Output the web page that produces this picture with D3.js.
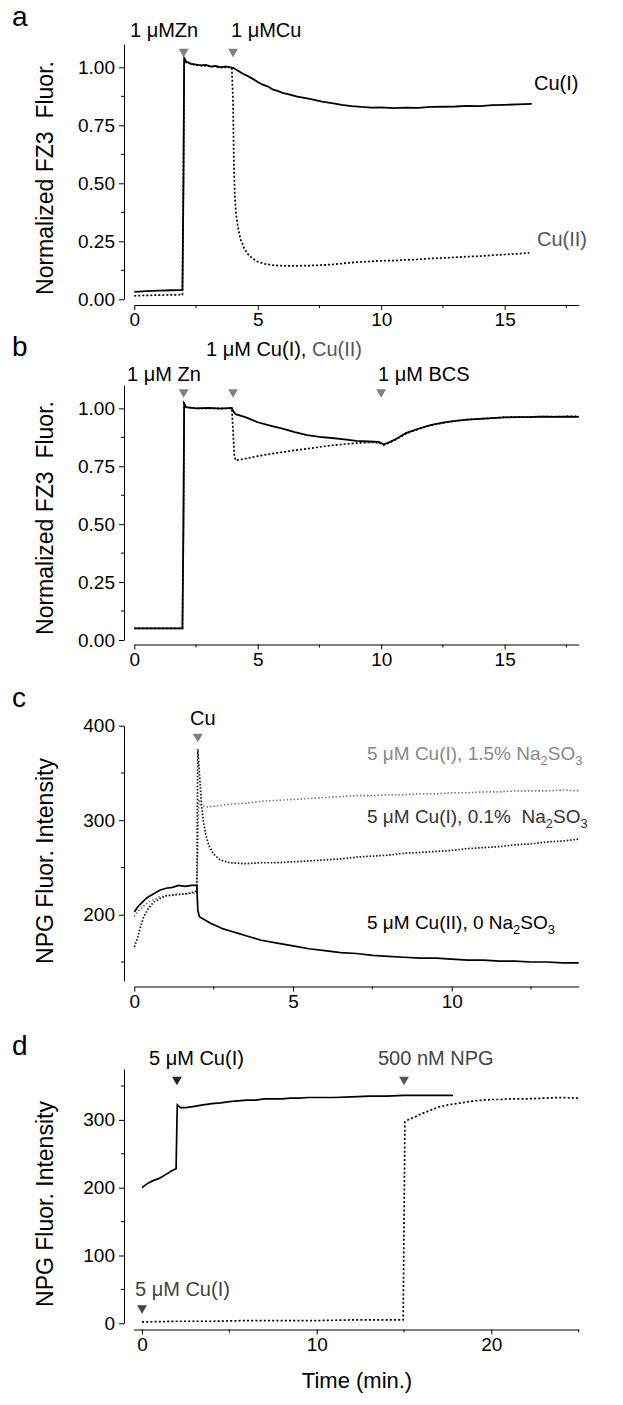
<!DOCTYPE html>
<html><head><meta charset="utf-8">
<script src="https://cdn.jsdelivr.net/npm/d3@7"></script>
<style>
body{margin:0;background:#fff}
svg{display:block}
text{font-family:"Liberation Sans",Arial,sans-serif;white-space:pre}
</style>
</head><body>
<svg id="c" width="623" height="1405"></svg>
<script>
// ---------------- DATA ----------------
// Panel a : normalized FZ3 fluorescence, time in min
const aCuI = [[0,0.032],[0.5,0.035],[1,0.037],[1.5,0.039],[1.95,0.041],[1.99,0.5],[2.02,1.04],[2.1,1.025],[2.3,1.015],[2.5,1.012],[2.7,1.008],[2.9,1.01],[3.1,1.003],[3.3,1.006],[3.5,1.0],[3.7,1.004],[3.9,1.0],[4.0,0.998],[4.2,0.985],[4.4,0.972],[4.6,0.962],[4.8,0.95],[5.0,0.937],[5.2,0.925],[5.4,0.918],[5.6,0.905],[5.8,0.898],[6.0,0.89],[6.3,0.882],[6.6,0.874],[7.0,0.866],[7.3,0.86],[7.6,0.852],[8.0,0.846],[8.4,0.838],[8.8,0.833],[9.2,0.829],[9.6,0.826],[10,0.827],[10.5,0.824],[11,0.826],[11.5,0.825],[12,0.829],[12.5,0.83],[13,0.831],[13.5,0.834],[14,0.833],[14.5,0.837],[15,0.838],[15.5,0.84],[16.1,0.842]];
const aCuII = [[0,0.015],[0.5,0.017],[1,0.018],[1.5,0.019],[1.95,0.02],[1.99,0.5],[2.02,1.03],[2.1,1.02],[2.5,1.01],[3,1.005],[3.5,1.0],[3.95,1.0],[4.0,0.85],[4.03,0.6],[4.07,0.45],[4.12,0.37],[4.2,0.31],[4.3,0.26],[4.45,0.22],[4.6,0.195],[4.8,0.175],[5.0,0.162],[5.3,0.152],[5.7,0.146],[6.2,0.144],[7,0.145],[7.5,0.147],[8,0.15],[8.5,0.155],[9,0.16],[9.5,0.163],[10,0.166],[10.5,0.167],[11,0.17],[11.5,0.172],[12,0.176],[12.5,0.178],[13,0.181],[13.5,0.184],[14,0.186],[14.5,0.19],[15,0.193],[15.5,0.196],[16,0.2]];
// Panel b
const bCuI = [[0,0.05],[1,0.05],[1.95,0.05],[1.99,0.5],[2.02,1.02],[2.1,1.005],[2.5,1.0],[3,1.002],[3.5,0.999],[3.95,1.002],[4.0,0.99],[4.1,0.975],[4.5,0.962],[5,0.94],[5.5,0.926],[6,0.913],[6.5,0.897],[7,0.884],[7.5,0.877],[8,0.872],[8.5,0.866],[9,0.86],[9.5,0.857],[9.9,0.855],[10.1,0.845],[10.3,0.852],[10.6,0.868],[11,0.893],[11.5,0.912],[12,0.928],[12.5,0.938],[13,0.946],[13.5,0.951],[14,0.955],[14.5,0.958],[15,0.961],[15.5,0.962],[16,0.962],[16.5,0.964],[17,0.963],[17.5,0.964],[18,0.963]];
const bCuII = [[0,0.05],[1,0.05],[1.95,0.05],[1.99,0.5],[2.02,1.02],[2.1,1.005],[2.5,1.0],[3,1.0],[3.5,1.0],[3.95,1.0],[4.0,0.9],[4.05,0.8],[4.1,0.776],[4.3,0.779],[4.6,0.785],[5,0.794],[5.5,0.803],[6,0.811],[6.5,0.819],[7,0.826],[7.5,0.833],[8,0.84],[8.5,0.845],[9,0.85],[9.5,0.853],[9.9,0.852],[10.1,0.842],[10.3,0.85],[10.6,0.866],[11,0.89],[11.5,0.91],[12,0.927],[12.5,0.937],[13,0.946],[13.5,0.952],[14,0.955],[14.5,0.958],[15,0.962],[15.5,0.964],[16,0.963],[16.5,0.965],[17,0.964],[17.5,0.965],[18,0.965]];
// Panel c : NPG fluorescence intensity
const cCuII0 = [[0,203],[0.1,208],[0.25,213],[0.4,218],[0.6,222],[0.8,226],[1.0,228],[1.2,229],[1.4,231],[1.6,230],[1.8,231],[1.97,231],[2.0,205],[2.05,198],[2.2,195],[2.4,191],[2.6,188],[2.8,185],[3.0,183],[3.3,180],[3.6,177],[4.0,173],[4.5,170],[5.0,167],[5.5,164],[6.0,162],[6.5,160],[7.0,159],[7.5,157],[8.0,156],[8.5,155],[9,154],[9.5,154],[10,153],[10.5,152],[11,152],[11.5,151],[12,151],[12.5,150],[13,150],[13.5,149],[14,149]];
const cCuI01 = [[0,166],[0.1,175],[0.2,188],[0.3,198],[0.45,207],[0.6,213],[0.8,217],[1.0,220],[1.3,221],[1.6,222],[1.9,224],[1.97,226],[2.0,375],[2.04,355],[2.08,335],[2.12,315],[2.18,298],[2.25,285],[2.35,273],[2.5,264],[2.7,258],[3.0,255],[3.5,254],[4.0,255],[4.5,255],[5,256],[5.5,257],[6,258],[6.5,259],[7,261],[7.5,262],[8,263],[8.5,265],[9,266],[9.5,267],[10,268],[10.5,270],[11,271],[11.5,272],[12,274],[12.5,275],[13,277],[13.5,278],[14,280]];
const cCuI15 = [[0,198],[0.1,203],[0.25,208],[0.4,212],[0.6,216],[0.8,219],[1.0,220],[1.3,222],[1.6,222],[1.9,223],[1.97,224],[2.03,322],[2.1,316],[2.3,314],[2.6,315],[3,317],[3.5,318],[4,320],[4.5,321],[5,322],[5.5,323],[6,324],[6.5,325],[7,326],[7.5,326],[8,327],[8.5,327],[9,328],[9.5,328],[10,329],[10.5,329],[11,330],[11.5,330],[12,331],[12.5,331],[13,331],[13.5,332],[14,331]];
// Panel d
const dCuFirst = [[0,200],[0.3,206],[0.6,210],[1.0,214],[1.4,220],[1.7,225],[1.95,228],[2.0,300],[2.02,322],[2.2,318],[2.5,318],[3,320],[3.5,322],[4,324],[4.5,325],[5,327],[5.5,328],[6,329],[6.5,329],[7,331],[7.5,331],[8,331],[8.5,332],[9,332],[9.5,333],[10,333],[11,333],[12,334],[13,335],[14,335],[15,336],[16,336],[17,336],[17.8,336]];
const dNpgLater = [[0,2],[2,3],[4,3],[6,4],[8,4],[10,4],[12,5],[14,5],[14.95,5],[15.0,150],[15.05,297],[15.3,301],[15.6,304],[16,309],[16.5,314],[17,319],[17.5,322],[18,324],[18.5,326],[19,328],[19.5,329],[20,330],[20.5,330],[21,331],[22,331],[23,332],[24,333],[25,332]];

// tick values
const abXTicks = [0,5,10,15], abXMinor = [2.5,7.5,12.5,17.5];
const abYTicks = [0,0.25,0.5,0.75,1.0], abYMinor = [0.125,0.375,0.625,0.875];
const cXTicks = [0,5,10], cXMinor = [2.5,7.5,12.5];
const cYTicks = [200,300,400], cYMinor = [150,250,350];
const dXTicks = [0,10,20], dXMinor = [5,15,25];
const dYTicks = [0,100,200,300], dYMinor = [50,150,250,350];

// ---------------- DRAW ----------------
const svg = d3.select('#c');
const AX = 124, XR = 578.7;

function panel(cfg){
  const x = d3.scaleLinear().domain(cfg.xDomain).range([cfg.xLeft, XR]);
  const y = d3.scaleLinear().domain(cfg.yDomain).range([cfg.yBottom, cfg.yTop]);
  const g = svg.append('g');
  const ya = g.append('g').attr('transform', `translate(${AX},0)`)
    .call(d3.axisLeft(y).tickValues(cfg.yTicks).tickSize(5).tickSizeOuter(0).tickPadding(4).tickFormat(cfg.yFmt));
  ya.selectAll('.mtick').data(cfg.yMinor).enter().append('line').attr('class','mtick')
    .attr('x1',0).attr('x2',-3).attr('y1',d=>y(d)).attr('y2',d=>y(d)).attr('stroke','#000');
  const xa = g.append('g').attr('transform', `translate(0,${cfg.axisY})`)
    .call(d3.axisBottom(x).tickValues(cfg.xTicks).tickSize(5).tickSizeOuter(0).tickPadding(3).tickFormat(d3.format('d')));
  xa.selectAll('.mtick').data(cfg.xMinor).enter().append('line').attr('class','mtick')
    .attr('y1',0).attr('y2',3).attr('x1',d=>x(d)).attr('x2',d=>x(d)).attr('stroke','#000');
  [ya,xa].forEach(a=>{
    a.selectAll('text').attr('font-size',19).attr('font-family','"Liberation Sans",Arial,sans-serif').attr('fill','#000');
    a.select('.domain').attr('stroke','#000');
  });
  // y title
  g.append('text').attr('transform',`translate(53,${cfg.titleY}) rotate(-90)`)
    .attr('text-anchor','middle').attr('font-size',23).attr('xml:space','preserve').text(cfg.yTitle);
  // panel letter
  g.append('text').attr('x',12).attr('y',cfg.letterY).attr('font-size',28).text(cfg.letter);
  return {g,x,y};
}

const line = (x,y)=>d3.line().x(d=>x(d[0])).y(d=>y(d[1]));

function series(p, data, style){
  p.g.append('path').datum(data).attr('d', line(p.x,p.y))
    .attr('fill','none').attr('stroke', style.color||'#000')
    .attr('stroke-width', style.width||1.5)
    .attr('stroke-dasharray', style.dash||null);
}
function tri(p, t, cy, color){
  p.g.append('path').attr('d', d3.symbol(d3.symbolTriangle, 42)())
    .attr('transform', `translate(${p.x(t)},${cy}) rotate(180)`).attr('fill', color);
}
function label(g, x, y, parts, size){
  const fs = size||20;
  const t = g.append('text').attr('x',x).attr('y',y).attr('font-size',fs).attr('xml:space','preserve');
  parts.forEach(pt=>{
    const s = t.append('tspan').text(pt.t).attr('fill', pt.c||'#000');
    if(pt.sub){ s.attr('font-size',fs*0.68).attr('dy',5); }
    if(pt.back){ s.attr('dy',-5); }
  });
  return t;
}

// Panel a
const pa = panel({xDomain:[0,18], xLeft:134.3, yDomain:[0,1.1], yBottom:299.3, yTop:44.1, axisY:305,
  xTicks:abXTicks, xMinor:abXMinor, yTicks:abYTicks, yMinor:abYMinor, yFmt:d3.format('.2f'),
  yTitle:'Normalized FZ3  Fluor.', titleY:178, letter:'a', letterY:26});
series(pa, aCuII, {dash:'2,2', width:1.7});
series(pa, aCuI, {width:1.8});
tri(pa, 2, 51.5, '#7f7f7f'); tri(pa, 4, 51.5, '#7f7f7f');
label(pa.g, 130, 37, [{t:'1 μMZn'}]);
label(pa.g, 231, 37, [{t:'1 μMCu'}]);
label(pa.g, 534, 90, [{t:'Cu(I)'}]);
label(pa.g, 537, 246, [{t:'Cu(II)', c:'#555'}]);

// Panel b
const pb = panel({xDomain:[0,18], xLeft:134.3, yDomain:[0,1.1], yBottom:640, yTop:385.2, axisY:644.5,
  xTicks:abXTicks, xMinor:abXMinor, yTicks:abYTicks, yMinor:abYMinor, yFmt:d3.format('.2f'),
  yTitle:'Normalized FZ3  Fluor.', titleY:518, letter:'b', letterY:356});
series(pb, bCuII, {dash:'2,2', width:1.7});
series(pb, bCuI, {width:1.8});
tri(pb, 2, 392, '#7f7f7f'); tri(pb, 4, 392, '#7f7f7f'); tri(pb, 10, 392, '#7f7f7f');
label(pb.g, 206, 356, [{t:'1 μM Cu(I), '},{t:'Cu(II)', c:'#555'}]);
label(pb.g, 127, 381, [{t:'1 μM Zn'}]);
label(pb.g, 378, 381, [{t:'1 μM BCS'}]);

// Panel c
const pc = panel({xDomain:[0,14], xLeft:134.3, yDomain:[130,400], yBottom:980.9, yTop:725.7, axisY:986.5,
  xTicks:cXTicks, xMinor:cXMinor, yTicks:cYTicks, yMinor:cYMinor, yFmt:d3.format('d'),
  yTitle:'NPG Fluor. Intensity', titleY:861, letter:'c', letterY:707});
series(pc, cCuI15, {dash:'1.5,2', width:1.6, color:'#777'});
series(pc, cCuI01, {dash:'1.5,1.8', width:1.7, color:'#111'});
series(pc, cCuII0, {width:1.7});
tri(pc, 2, 736.5, '#7f7f7f');
label(pc.g, 190, 725, [{t:'Cu'}]);
label(pc.g, 367, 760, [{t:'5 μM Cu(I), 1.5% Na', c:'#888'},{t:'2',sub:true,c:'#888'},{t:'SO',back:true,c:'#888'},{t:'3',sub:true,c:'#888'}], 19);
label(pc.g, 367, 823, [{t:'5 μM Cu(I), 0.1%  Na', c:'#333'},{t:'2',sub:true,c:'#333'},{t:'SO',back:true,c:'#333'},{t:'3',sub:true,c:'#333'}], 19);
label(pc.g, 367, 929, [{t:'5 μM Cu(II), 0 Na'},{t:'2',sub:true},{t:'SO',back:true},{t:'3',sub:true}], 19);

// Panel d
const pd = panel({xDomain:[-0.5,25], xLeft:133.3, yDomain:[0,375], yBottom:1323.3, yTop:1069, axisY:1329.5,
  xTicks:dXTicks, xMinor:dXMinor, yTicks:dYTicks, yMinor:dYMinor, yFmt:d3.format('d'),
  yTitle:'NPG Fluor. Intensity', titleY:1204, letter:'d', letterY:1055});
series(pd, dNpgLater, {dash:'2,2.2', width:1.7});
series(pd, dCuFirst, {width:1.7});
tri(pd, 2, 1079.5, '#222'); tri(pd, 15, 1079.5, '#555'); tri(pd, 0, 1308, '#444');
label(pd.g, 149, 1065, [{t:'5 μM Cu(I)'}]);
label(pd.g, 378, 1065, [{t:'500 nM NPG', c:'#444'}]);
label(pd.g, 135, 1296, [{t:'5 μM Cu(I)', c:'#444'}]);
pd.g.append('text').attr('x',357).attr('y',1388).attr('text-anchor','middle').attr('font-size',22).text('Time (min.)');
</script>
</body></html>
